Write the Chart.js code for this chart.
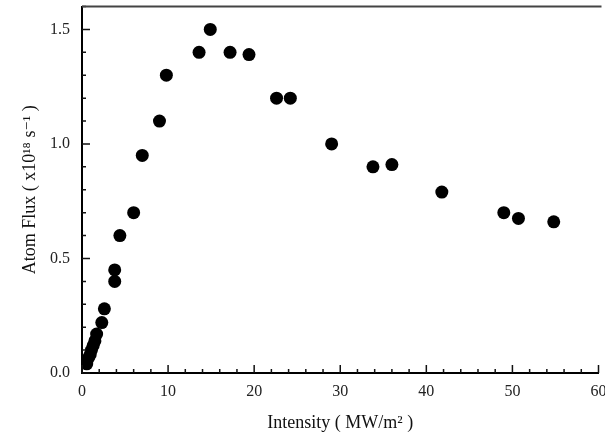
<!DOCTYPE html>
<html>
<head>
<meta charset="utf-8">
<script src="https://cdn.jsdelivr.net/npm/chart.js@4/dist/chart.umd.min.js"></script>
<style>
    html, body { margin: 0; padding: 0; background: #fff; }
    #wrap { width: 605px; height: 439px; }
</style>
</head>
<body>
<div id="wrap"><canvas id="myChart" width="605" height="439"></canvas></div>
<script>
// intensity in MW/m^2
const intensity = [0.55, 0.75, 0.95, 1.1, 1.3, 1.5, 1.7, 2.3, 2.6, 3.8, 3.8, 4.4, 6.0, 7.0, 9.0, 9.8,
    13.6, 14.9, 17.2, 19.4, 22.6, 24.2, 29.0, 33.8, 36.0, 41.8, 49.0, 50.7, 54.8];
// atom flux
const atomFlux = [0.04, 0.065, 0.08, 0.10, 0.12, 0.14, 0.17, 0.22, 0.28, 0.40, 0.45, 0.60, 0.70, 0.95, 1.10, 1.30,
    1.40, 1.50, 1.40, 1.39, 1.20, 1.20, 1.00, 0.90, 0.91, 0.79, 0.70, 0.675, 0.66];

const xTickLabels = [0, 10, 20, 30, 40, 50, 60];
const yTickLabels = [0.0, 0.5, 1.0, 1.5];

const serif = "'Liberation Serif', 'DejaVu Serif', serif";

/* inward ticks + top frame line */
const frameTicks = {
    id: 'frameTicks',
    afterDraw(chart) {
        const ctx = chart.ctx;
        const x = chart.scales.x;
        const y = chart.scales.y;
        const area = chart.chartArea;

        ctx.save();
        ctx.strokeStyle = '#111';
        ctx.lineWidth = 1.5;
        ctx.beginPath();
        for (let v = 0; v <= 60; v += 2) {
            const px = x.getPixelForValue(v);
            const len = v % 10 === 0 ? 8 : 4;
            ctx.moveTo(px, area.bottom);
            ctx.lineTo(px, area.bottom - len);
        }
        for (let i = 0; i <= 16; i++) {
            const py = y.getPixelForValue(i / 10);
            const len = i % 5 === 0 ? 8 : 4;
            ctx.moveTo(area.left, py);
            ctx.lineTo(area.left + len, py);
        }
        ctx.stroke();

        ctx.strokeStyle = '#444';
        ctx.lineWidth = 2;
        ctx.beginPath();
        ctx.moveTo(area.left, area.top);
        ctx.lineTo(area.right + 3, area.top);
        ctx.stroke();
        ctx.restore();
    }
};

const data = {
    datasets: [
        {
            label: 'Atom flux',
            data: intensity.map((v, i) => ({ x: v, y: atomFlux[i] })),
            backgroundColor: '#000',
            borderColor: '#000',
            borderWidth: 0,
            pointStyle: 'circle',
            pointRadius: 6.5,
        }
    ]
};

const config = {
    type: 'scatter',
    data: data,
    options: {
        responsive: false,
        animation: false,
        layout: {
            padding: { top: 5, right: 5, left: 0, bottom: 0 },
        },
        plugins: {
            legend: { display: false },
            tooltip: { enabled: false },
        },
        scales: {
            x: {
                type: 'linear',
                min: 0,
                max: 60,
                afterBuildTicks: (scale) => {
                    scale.ticks = xTickLabels.map((v) => ({ value: v }));
                },
                afterFit: (scale) => {
                    scale.height = 66;
                    scale.paddingLeft = 0;
                    scale.paddingRight = 0;
                },
                grid: { display: false, drawTicks: false },
                border: { display: true, color: '#000', width: 2 },
                ticks: {
                    color: '#222',
                    padding: 9,
                    maxRotation: 0,
                    font: { family: serif, size: 16 },
                },
                title: {
                    display: true,
                    text: 'Intensity ( MW/m² )',
                    color: '#111',
                    padding: { top: 0, bottom: 5 },
                    font: { family: serif, size: 18 },
                },
            },
            y: {
                type: 'linear',
                min: 0,
                max: 1.6,
                afterBuildTicks: (scale) => {
                    scale.ticks = yTickLabels.map((v) => ({ value: v }));
                },
                afterFit: (scale) => {
                    scale.width = 82;
                    scale.paddingTop = 0;
                    scale.paddingBottom = 0;
                },
                grid: { display: false, drawTicks: false },
                border: { display: true, color: '#000', width: 2 },
                ticks: {
                    color: '#222',
                    padding: 12,
                    callback: (v) => Number(v).toFixed(1),
                    font: { family: serif, size: 16 },
                },
                title: {
                    display: true,
                    text: 'Atom Flux ( x10¹⁸ s⁻¹ )',
                    color: '#111',
                    padding: { top: 19, bottom: 0 },
                    font: { family: serif, size: 18 },
                },
            },
        },
    },
    plugins: [frameTicks],
};

const myChart = new Chart(document.getElementById('myChart').getContext('2d'), config);
</script>
</body>
</html>
